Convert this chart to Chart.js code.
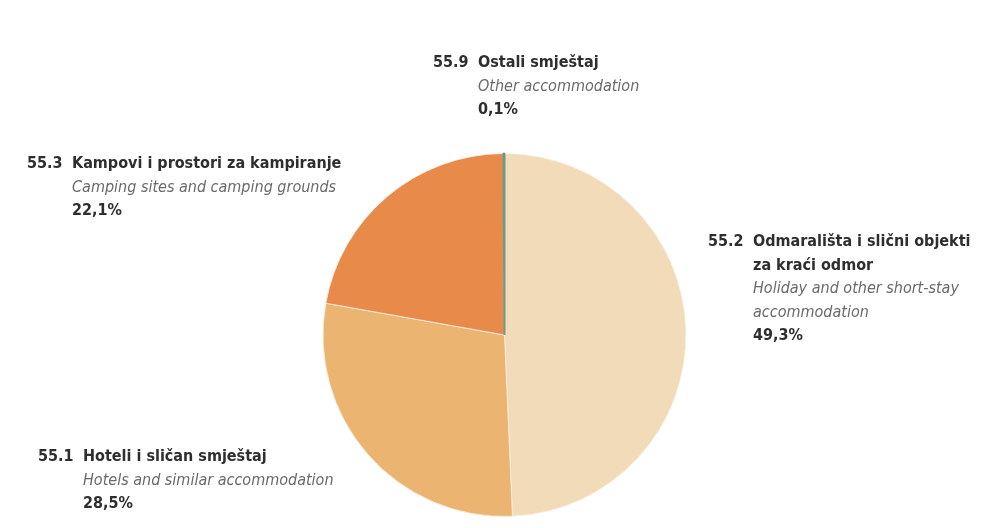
<!DOCTYPE html>
<html><head><meta charset="utf-8">
<script src="https://cdn.jsdelivr.net/npm/chart.js@4/dist/chart.umd.min.js"></script>
<style>
html,body{margin:0;padding:0;background:#ffffff;}
#wrap{position:relative;width:1000px;height:528px;overflow:hidden;}
canvas{position:absolute;left:0;top:0;}
.lbl{position:absolute;font-family:"Liberation Sans Narrow","DejaVu Sans Condensed",sans-serif;font-size:16px;line-height:23.5px;color:#2e2e2e;white-space:nowrap;}
.lbl .code{position:absolute;left:0;top:0;font-weight:bold;}
.lbl .body{margin-left:45px;}
.lbl .t{font-weight:bold;}
.lbl .en{font-style:italic;color:#6a6a6a;}
.lbl .pct{font-weight:bold;}
</style></head>
<body><div id="wrap"><canvas id="c" width="1000" height="528"></canvas><div id="labels"></div></div>
<script>
const codes = ["55.2", "55.1", "55.3", "55.9"];
const titlesHr = [["Odmarališta i slični objekti", "za kraći odmor"], ["Hoteli i sličan smještaj"], ["Kampovi i prostori za kampiranje"], ["Ostali smještaj"]];
const titlesEn = [["Holiday and other short-stay", "accommodation"], ["Hotels and similar accommodation"], ["Camping sites and camping grounds"], ["Other accommodation"]];
const values = [49.3, 28.5, 22.1, 0.1];
const pctLabels = ["49,3%", "28,5%", "22,1%", "0,1%"];
const colors = ["#F2DBB9", "#EBB470", "#E88B4A", "#6E9C8B"];
const labelPos = [[708, 229], [38, 444], [27, 151], [433, 50]];

const cont = document.getElementById('labels');
codes.forEach((c, i) => {
  const d = document.createElement('div');
  d.className = 'lbl';
  d.style.left = labelPos[i][0] + 'px';
  d.style.top = labelPos[i][1] + 'px';
  let html = '<span class="code">' + c + '</span><div class="body">';
  titlesHr[i].forEach(t => html += '<div class="t">' + t + '</div>');
  titlesEn[i].forEach(t => html += '<div class="en">' + t + '</div>');
  html += '<div class="pct">' + pctLabels[i] + '</div></div>';
  d.innerHTML = html;
  cont.appendChild(d);
});

new Chart(document.getElementById('c'), {
  type: 'pie',
  data: {
    labels: codes,
    datasets: [{
      data: values,
      backgroundColor: colors,
      borderColor: ['#fbf3ea', '#fbf3ea', '#fbf3ea', '#6E9C8B'],
      borderWidth: [0.8, 0.8, 0.8, 2]
    }]
  },
  options: {
    responsive: false,
    animation: false,
    rotation: 0,
    layout: { padding: { top: 152, bottom: 10, left: 322, right: 313 } },
    plugins: { legend: { display: false }, tooltip: { enabled: false } }
  }
});
</script></body></html>
